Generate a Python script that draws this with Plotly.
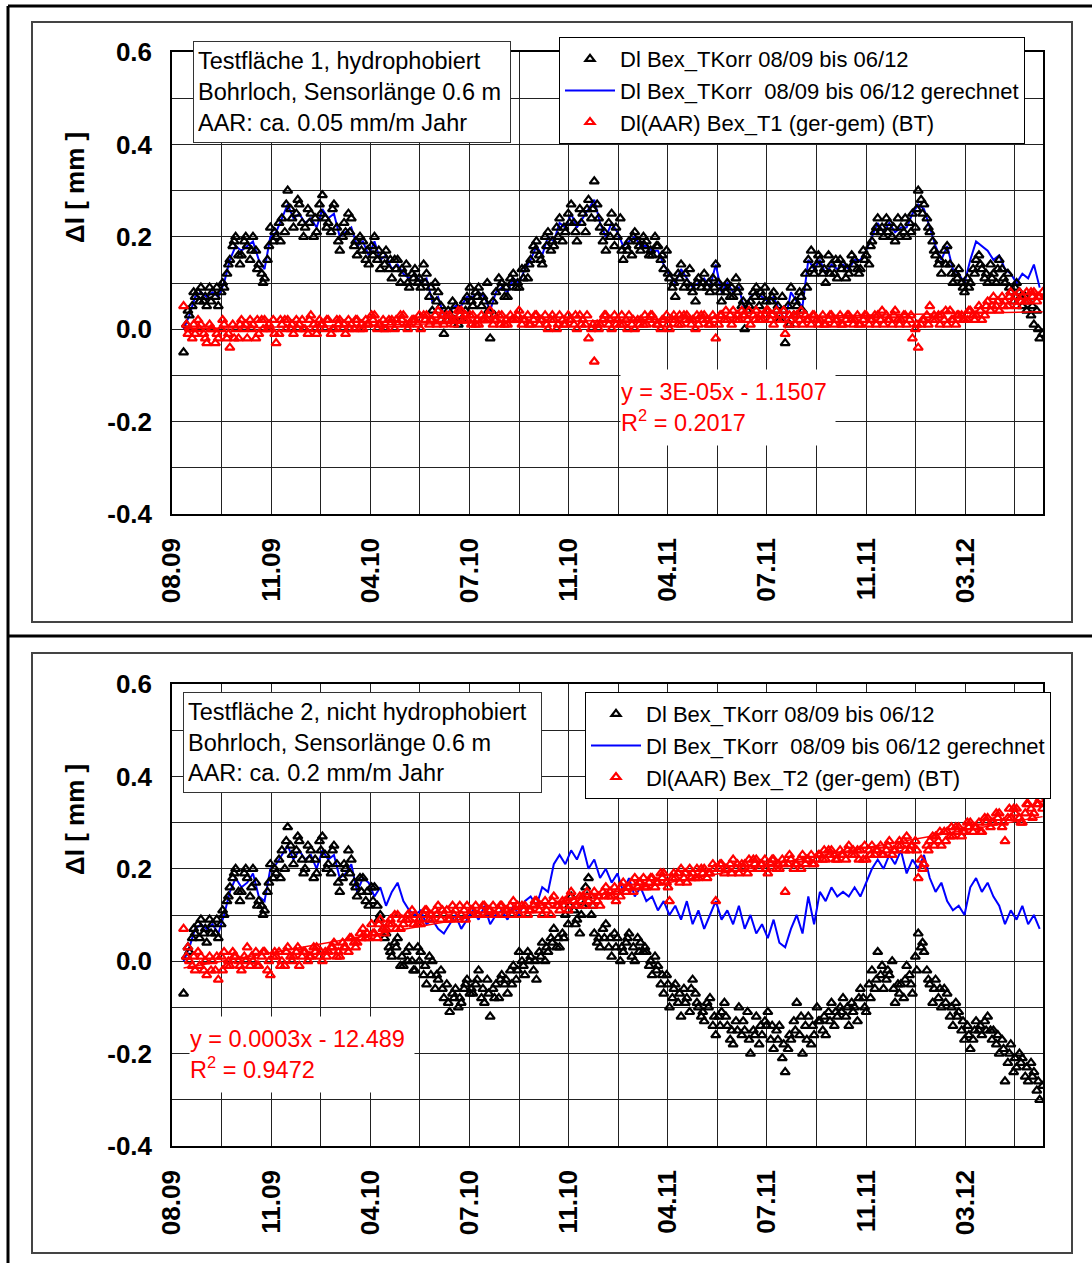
import numpy as np
import plotly.graph_objects as go

# Werte (mm). Die Punktwolken sind dreifach
# abgelesen: Reihe A an Tag 14, 21, 28, ...; Reihe B 3.5 Tage später,
# Reihe C 5.25 Tage später. Tag 0 = Achsenbeginn "08.09".
DAY0 = 14
STEP = 7
OFFSET_B = 3.5
OFFSET_C = 5.25

T1_GEMESSEN_A = [
    -0.05, 0.03, 0.07, 0.09, 0.05, 0.08, 0.05, 0.09, 0.15, 0.20,
    0.16, 0.18, 0.20, 0.14, 0.11, 0.22, 0.20, 0.24, 0.30, 0.22,
    0.27, 0.22, 0.25, 0.21, 0.29, 0.23, 0.27, 0.17, 0.21, 0.24,
    0.16, 0.19, 0.14, 0.20, 0.13, 0.17, 0.11, 0.15, 0.12, 0.09,
    0.13, 0.09, 0.12, 0.04, 0.08, -0.01, 0.03, 0.05, 0.02, 0.07,
    0.05, 0.09, 0.06, -0.02, 0.08, 0.10, 0.07, 0.12, 0.09, 0.13,
    0.15, 0.19, 0.14, 0.21, 0.18, 0.24, 0.21, 0.27, 0.19, 0.25,
    0.28, 0.32, 0.22, 0.17, 0.25, 0.20, 0.15, 0.19, 0.21, 0.17,
    0.19, 0.16, 0.18, 0.13, 0.11, 0.07, 0.14, 0.10, 0.08, 0.11,
    0.12, 0.08, 0.14, 0.06, 0.10, 0.07, 0.09, 0.00, 0.06, 0.09,
    0.07, 0.04, 0.08, 0.02, -0.03, 0.09, 0.05, 0.04, 0.15, 0.12,
    0.15, 0.10, 0.14, 0.11, 0.14, 0.12, 0.15, 0.13, 0.16, 0.19,
    0.24, 0.20, 0.23, 0.19, 0.22, 0.20, 0.25, 0.30, 0.27, 0.21,
    0.16, 0.12, 0.18, 0.10, 0.13, 0.08, 0.10, 0.15, 0.13, 0.10,
    0.12, 0.15, 0.10, 0.08, 0.10, 0.05, 0.06, 0.01, -0.02,
]
T1_GEMESSEN_B = [
    0.01, 0.05, 0.08, 0.06, 0.09, 0.07, 0.08, 0.12, 0.18, 0.16,
    0.19, 0.15, 0.17, 0.12, 0.15, 0.19, 0.23, 0.21, 0.26, 0.25,
    0.23, 0.26, 0.20, 0.27, 0.24, 0.21, 0.22, 0.20, 0.25, 0.18,
    0.20, 0.15, 0.18, 0.15, 0.16, 0.13, 0.15, 0.10, 0.14, 0.12,
    0.10, 0.14, 0.07, 0.10, 0.05, 0.02, 0.06, 0.01, 0.06, 0.09,
    0.08, 0.05, 0.10, 0.06, 0.11, 0.07, 0.11, 0.09, 0.13, 0.11,
    0.18, 0.16, 0.20, 0.17, 0.22, 0.19, 0.25, 0.23, 0.26, 0.21,
    0.24, 0.27, 0.19, 0.23, 0.18, 0.24, 0.18, 0.16, 0.19, 0.20,
    0.16, 0.20, 0.15, 0.17, 0.09, 0.12, 0.09, 0.13, 0.06, 0.09,
    0.09, 0.11, 0.10, 0.09, 0.07, 0.11, 0.05, 0.04, 0.08, 0.05,
    0.09, 0.06, 0.04, 0.07, 0.05, 0.03, 0.08, 0.12, 0.17, 0.14,
    0.12, 0.16, 0.12, 0.15, 0.11, 0.16, 0.13, 0.17, 0.14, 0.21,
    0.21, 0.24, 0.20, 0.24, 0.21, 0.23, 0.22, 0.28, 0.24, 0.19,
    0.14, 0.17, 0.14, 0.12, 0.10, 0.11, 0.13, 0.16, 0.11, 0.14,
    0.10, 0.13, 0.12, 0.06, 0.08, 0.07, 0.03, 0.04, -0.01,
]
T1_GEMESSEN_C = [
    0.04, 0.08, 0.06, 0.07, 0.06, 0.09, 0.10, 0.14, 0.19, 0.14,
    0.20, 0.17, 0.13, 0.10, 0.18, 0.21, 0.19, 0.27, 0.24, 0.28,
    0.20, 0.23, 0.24, 0.25, 0.22, 0.26, 0.19, 0.23, 0.21, 0.19,
    0.17, 0.17, 0.16, 0.17, 0.14, 0.15, 0.13, 0.13, 0.10, 0.11,
    0.11, 0.10, 0.09, 0.06, 0.03, 0.04, 0.02, 0.04, 0.04, 0.06,
    0.07, 0.07, 0.04, 0.03, 0.09, 0.09, 0.10, 0.10, 0.11, 0.14,
    0.17, 0.15, 0.18, 0.19, 0.20, 0.22, 0.23, 0.21, 0.23, 0.26,
    0.26, 0.24, 0.21, 0.20, 0.22, 0.17, 0.17, 0.20, 0.18, 0.18,
    0.17, 0.18, 0.16, 0.12, 0.10, 0.11, 0.12, 0.09, 0.10, 0.10,
    0.10, 0.09, 0.08, 0.08, 0.09, 0.08, 0.06, 0.05, 0.07, 0.08,
    0.06, 0.07, 0.05, 0.04, 0.01, 0.06, 0.07, 0.09, 0.13, 0.16,
    0.13, 0.12, 0.15, 0.13, 0.13, 0.14, 0.12, 0.15, 0.18, 0.22,
    0.22, 0.21, 0.22, 0.20, 0.24, 0.21, 0.26, 0.25, 0.22, 0.17,
    0.15, 0.14, 0.12, 0.11, 0.09, 0.09, 0.12, 0.14, 0.12, 0.11,
    0.13, 0.11, 0.09, 0.09, 0.07, 0.04, 0.05, 0.00,
]
T1_GERECHNET = [
    0.00, 0.03, 0.07, 0.08, 0.07, 0.08, 0.07, 0.10, 0.15, 0.18,
    0.17, 0.18, 0.19, 0.15, 0.13, 0.20, 0.21, 0.24, 0.27, 0.24,
    0.25, 0.23, 0.24, 0.22, 0.26, 0.24, 0.25, 0.20, 0.21, 0.22,
    0.18, 0.19, 0.16, 0.19, 0.15, 0.16, 0.13, 0.14, 0.12, 0.11,
    0.12, 0.10, 0.11, 0.06, 0.07, 0.03, 0.04, 0.05, 0.05, 0.07,
    0.07, 0.08, 0.07, 0.04, 0.08, 0.09, 0.08, 0.11, 0.10, 0.13,
    0.15, 0.18, 0.16, 0.20, 0.19, 0.23, 0.22, 0.25, 0.22, 0.24,
    0.26, 0.28, 0.23, 0.20, 0.23, 0.21, 0.18, 0.19, 0.20, 0.18,
    0.18, 0.17, 0.17, 0.14, 0.12, 0.10, 0.13, 0.11, 0.09, 0.10,
    0.11, 0.09, 0.14, 0.08, 0.10, 0.08, 0.09, 0.04, 0.07, 0.08,
    0.07, 0.06, 0.07, 0.04, 0.02, 0.08, 0.06, 0.05, 0.15, 0.13,
    0.15, 0.12, 0.14, 0.13, 0.14, 0.13, 0.15, 0.15, 0.17, 0.20,
    0.23, 0.21, 0.23, 0.21, 0.22, 0.22, 0.25, 0.27, 0.26, 0.22,
    0.18, 0.15, 0.18, 0.13, 0.12, 0.10, 0.15, 0.19, 0.18, 0.17,
    0.15, 0.16, 0.13, 0.12, 0.10, 0.12, 0.11, 0.14, 0.09,
]
T1_AAR_A = [
    0.05, 0.00, -0.01, 0.01, -0.03, 0.00, -0.02, 0.01, -0.04, 0.00,
    0.02, -0.02, 0.01, -0.01, 0.02, 0.00, -0.03, 0.01, 0.02, -0.01,
    0.01, 0.00, 0.03, -0.01, 0.01, 0.02, 0.00, 0.02, -0.01, 0.01,
    0.02, 0.00, 0.01, 0.03, 0.01, 0.00, 0.02, 0.01, 0.03, 0.01,
    0.02, 0.00, 0.03, 0.02, 0.04, 0.01, 0.03, 0.02, 0.04, 0.02,
    0.03, 0.01, 0.02, 0.04, 0.02, 0.03, 0.01, 0.02, 0.04, 0.02,
    0.01, 0.03, 0.02, 0.00, 0.02, 0.03, 0.01, 0.02, 0.00, 0.02,
    -0.02, -0.07, 0.01, 0.03, 0.00, 0.02, 0.01, 0.03, 0.00, 0.02,
    0.01, 0.03, 0.01, 0.02, 0.00, 0.02, 0.01, 0.03, 0.02, 0.01,
    0.03, 0.01, -0.02, 0.03, 0.02, 0.04, 0.02, 0.03, 0.01, 0.04,
    0.02, 0.04, 0.01, 0.03, -0.01, 0.02, 0.03, 0.01, 0.02, 0.03,
    0.02, 0.01, 0.03, 0.02, 0.01, 0.03, 0.02, 0.01, 0.03, 0.02,
    0.03, 0.01, 0.02, 0.04, 0.02, 0.01, -0.02, -0.04, 0.02, 0.05,
    0.02, 0.03, 0.01, 0.02, 0.03, 0.02, 0.04, 0.03, 0.02, 0.06,
    0.07, 0.04, 0.06, 0.08, 0.05, 0.07, 0.06, 0.08, 0.07,
]
T1_AAR_B = [
    0.01, -0.02, 0.02, -0.01, 0.01, -0.03, 0.00, -0.02, 0.01, -0.02,
    0.00, 0.02, -0.02, 0.02, 0.00, 0.02, -0.01, 0.02, 0.00, 0.02,
    0.02, -0.01, 0.01, 0.02, 0.00, -0.01, 0.02, 0.00, 0.02, 0.00,
    0.00, 0.02, 0.03, 0.00, 0.02, 0.02, 0.00, 0.03, 0.01, 0.02,
    0.01, 0.03, 0.01, 0.03, 0.02, 0.03, 0.02, 0.04, 0.02, 0.03,
    0.01, 0.03, 0.02, 0.01, 0.03, 0.01, 0.03, 0.02, 0.01, 0.03,
    0.02, 0.01, 0.03, 0.02, 0.00, 0.02, 0.03, 0.01, 0.03, 0.01,
    0.00, 0.01, 0.02, 0.01, 0.03, 0.01, 0.02, 0.01, 0.02, 0.01,
    0.02, 0.02, 0.00, 0.03, 0.02, 0.01, 0.03, 0.02, 0.00, 0.03,
    0.02, 0.03, 0.01, 0.02, 0.03, 0.02, 0.04, 0.02, 0.03, 0.02,
    0.03, 0.02, 0.04, 0.02, 0.01, 0.03, 0.02, 0.03, 0.01, 0.02,
    0.03, 0.02, 0.01, 0.03, 0.02, 0.02, 0.03, 0.02, 0.01, 0.03,
    0.02, 0.03, 0.01, 0.02, 0.03, 0.02, 0.00, 0.01, 0.03, 0.02,
    0.03, 0.02, 0.04, 0.01, 0.03, 0.02, 0.03, 0.05, 0.03, 0.04,
    0.05, 0.07, 0.05, 0.06, 0.08, 0.06, 0.08, 0.06, 0.08,
]
T1_AAR_C = [
    -0.01, 0.01, 0.00, -0.02, 0.00, -0.01, 0.02, -0.01, -0.02, 0.01,
    0.01, 0.00, 0.02, 0.00, 0.01, -0.01, 0.02, 0.00, 0.01, 0.00,
    0.00, 0.02, 0.00, 0.01, 0.02, 0.00, 0.01, 0.01, 0.00, 0.02,
    0.01, 0.01, 0.02, 0.01, 0.00, 0.01, 0.02, 0.02, 0.00, 0.02,
    0.03, 0.02, 0.02, 0.01, 0.03, 0.02, 0.01, 0.03, 0.03, 0.01,
    0.02, 0.02, 0.03, 0.02, 0.01, 0.02, 0.02, 0.03, 0.02, 0.01,
    0.03, 0.02, 0.01, 0.03, 0.01, 0.01, 0.02, 0.03, 0.01, 0.03,
    0.01, 0.00, 0.03, 0.02, 0.01, 0.03, 0.00, 0.02, 0.01, 0.03,
    0.03, 0.01, 0.02, 0.01, 0.03, 0.03, 0.02, 0.01, 0.03, 0.02,
    0.01, 0.02, 0.03, 0.04, 0.01, 0.03, 0.03, 0.04, 0.02, 0.03,
    0.04, 0.03, 0.02, 0.04, 0.03, 0.01, 0.04, 0.02, 0.03, 0.01,
    0.01, 0.03, 0.02, 0.01, 0.03, 0.01, 0.01, 0.03, 0.02, 0.01,
    0.04, 0.02, 0.03, 0.01, 0.03, 0.03, 0.01, 0.02, 0.01, 0.03,
    0.01, 0.04, 0.02, 0.03, 0.02, 0.04, 0.02, 0.04, 0.05, 0.05,
    0.06, 0.05, 0.07, 0.07, 0.06, 0.08, 0.07, 0.07,
]

T2_GEMESSEN_A = [
    -0.07, 0.02, 0.06, 0.09, 0.04, 0.08, 0.05, 0.10, 0.16, 0.20,
    0.15, 0.18, 0.20, 0.13, 0.11, 0.21, 0.19, 0.24, 0.29, 0.21,
    0.26, 0.20, 0.24, 0.19, 0.27, 0.21, 0.25, 0.15, 0.20, 0.22,
    0.14, 0.18, 0.12, 0.16, 0.10, 0.06, 0.01, 0.05, -0.01, 0.03,
    -0.02, 0.02, -0.05, 0.00, -0.04, -0.08, -0.11, -0.06, -0.09, -0.04,
    -0.07, -0.02, -0.09, -0.12, -0.05, -0.03, -0.07, -0.01, 0.02, -0.03,
    0.01, -0.04, 0.04, 0.02, 0.07, 0.03, 0.10, 0.14, 0.09, 0.12,
    0.18, 0.06, 0.03, 0.08, 0.01, 0.05, 0.02, 0.06, 0.00, 0.04,
    0.02, -0.03, -0.01, -0.07, -0.10, -0.05, -0.12, -0.08, -0.04, -0.10,
    -0.13, -0.08, -0.16, -0.11, -0.14, -0.18, -0.10, -0.15, -0.20, -0.12,
    -0.16, -0.11, -0.19, -0.14, -0.24, -0.17, -0.09, -0.20, -0.12, -0.16,
    -0.13, -0.16, -0.09, -0.12, -0.08, -0.14, -0.10, -0.06, -0.11, -0.02,
    0.02, -0.06, -0.03, -0.09, -0.05, -0.01, -0.07, 0.06, 0.02, -0.05,
    -0.04, -0.10, -0.07, -0.14, -0.11, -0.17, -0.19, -0.13, -0.16, -0.12,
    -0.15, -0.20, -0.26, -0.18, -0.23, -0.21, -0.26, -0.24, -0.30,
]
T2_GEMESSEN_B = [
    0.01, 0.05, 0.08, 0.06, 0.09, 0.06, 0.08, 0.13, 0.18, 0.15,
    0.19, 0.14, 0.17, 0.12, 0.15, 0.18, 0.22, 0.20, 0.25, 0.24,
    0.22, 0.25, 0.18, 0.26, 0.23, 0.19, 0.21, 0.18, 0.24, 0.17,
    0.18, 0.13, 0.16, 0.12, 0.07, 0.03, 0.04, -0.01, 0.02, 0.00,
    0.03, -0.03, 0.01, -0.06, -0.02, -0.05, -0.07, -0.10, -0.06, -0.07,
    -0.05, -0.08, -0.04, -0.06, -0.08, -0.05, -0.02, -0.04, 0.00, 0.02,
    -0.02, 0.02, 0.00, 0.05, 0.03, 0.06, 0.08, 0.11, 0.06, 0.16,
    0.10, 0.04, 0.07, 0.03, 0.06, 0.00, 0.04, 0.01, 0.05, 0.02,
    -0.01, 0.01, -0.05, -0.03, -0.08, -0.09, -0.06, -0.11, -0.07, -0.12,
    -0.09, -0.14, -0.12, -0.09, -0.17, -0.13, -0.16, -0.11, -0.15, -0.18,
    -0.13, -0.17, -0.15, -0.21, -0.19, -0.13, -0.16, -0.14, -0.18, -0.10,
    -0.15, -0.11, -0.14, -0.10, -0.12, -0.09, -0.13, -0.08, -0.05, -0.06,
    -0.03, -0.04, 0.00, -0.05, -0.08, -0.03, 0.01, 0.03, -0.02, -0.09,
    -0.08, -0.06, -0.12, -0.09, -0.15, -0.14, -0.17, -0.15, -0.13, -0.15,
    -0.18, -0.17, -0.22, -0.24, -0.20, -0.25, -0.22, -0.28, -0.27,
]
T2_GEMESSEN_C = [
    0.03, 0.07, 0.05, 0.07, 0.06, 0.09, 0.11, 0.14, 0.19, 0.13,
    0.20, 0.16, 0.12, 0.10, 0.17, 0.20, 0.18, 0.26, 0.23, 0.27,
    0.19, 0.22, 0.22, 0.24, 0.20, 0.24, 0.17, 0.21, 0.19, 0.16,
    0.15, 0.15, 0.13, 0.09, 0.05, 0.02, 0.03, 0.01, 0.00, -0.02,
    0.00, -0.01, -0.03, -0.03, -0.06, -0.09, -0.08, -0.08, -0.05, -0.06,
    -0.04, -0.06, -0.07, -0.08, -0.04, -0.04, -0.05, -0.02, -0.01, 0.00,
    0.00, 0.01, 0.03, 0.04, 0.05, 0.05, 0.12, 0.08, 0.10, 0.14,
    0.12, 0.05, 0.05, 0.05, 0.03, 0.03, 0.05, 0.03, 0.02, 0.03,
    0.00, -0.02, -0.03, -0.05, -0.06, -0.07, -0.09, -0.06, -0.09, -0.11,
    -0.10, -0.12, -0.14, -0.12, -0.15, -0.15, -0.13, -0.17, -0.16, -0.14,
    -0.14, -0.14, -0.17, -0.18, -0.16, -0.15, -0.12, -0.17, -0.14, -0.13,
    -0.12, -0.13, -0.11, -0.11, -0.10, -0.11, -0.08, -0.10, -0.08, -0.04,
    -0.01, -0.02, -0.06, -0.07, -0.04, -0.05, -0.02, 0.04, -0.04, -0.06,
    -0.06, -0.09, -0.10, -0.12, -0.13, -0.16, -0.15, -0.14, -0.15, -0.17,
    -0.16, -0.19, -0.20, -0.21, -0.22, -0.23, -0.25, -0.26,
]
T2_GERECHNET = [
    0.00, 0.03, 0.07, 0.08, 0.07, 0.08, 0.06, 0.10, 0.15, 0.18,
    0.16, 0.17, 0.19, 0.14, 0.13, 0.20, 0.21, 0.23, 0.25, 0.22,
    0.24, 0.22, 0.23, 0.20, 0.24, 0.22, 0.23, 0.18, 0.19, 0.21,
    0.15, 0.18, 0.17, 0.14, 0.16, 0.12, 0.15, 0.17, 0.13, 0.11,
    0.10, 0.11, 0.08, 0.09, 0.07, 0.06, 0.08, 0.10, 0.07, 0.09,
    0.11, 0.09, 0.12, 0.08, 0.10, 0.11, 0.09, 0.12, 0.10, 0.13,
    0.14, 0.12, 0.16, 0.15, 0.21, 0.23, 0.21, 0.24, 0.22, 0.25,
    0.20, 0.22, 0.18, 0.20, 0.17, 0.19, 0.15, 0.18, 0.14, 0.16,
    0.13, 0.14, 0.11, 0.13, 0.10, 0.12, 0.09, 0.13, 0.08, 0.11,
    0.07, 0.10, 0.13, 0.09, 0.11, 0.08, 0.12, 0.07, 0.10, 0.06,
    0.08, 0.05, 0.09, 0.04, 0.03, 0.07, 0.10, 0.06, 0.14, 0.08,
    0.15, 0.13, 0.16, 0.14, 0.15, 0.14, 0.16, 0.14, 0.17, 0.20,
    0.22, 0.20, 0.23, 0.21, 0.24, 0.19, 0.22, 0.20, 0.23, 0.18,
    0.15, 0.17, 0.13, 0.11, 0.12, 0.10, 0.16, 0.18, 0.15, 0.17,
    0.14, 0.12, 0.08, 0.11, 0.09, 0.12, 0.08, 0.10, 0.07,
]
T2_AAR_A = [
    0.07, 0.00, -0.02, 0.01, -0.03, 0.00, -0.04, 0.02, -0.01, 0.01,
    -0.02, 0.03, 0.00, -0.01, 0.02, -0.03, 0.01, 0.00, 0.03, 0.01,
    -0.01, 0.02, 0.01, 0.03, 0.00, 0.02, 0.04, 0.01, 0.03, 0.05,
    0.04, 0.07, 0.05, 0.06, 0.09, 0.07, 0.08, 0.10, 0.08, 0.09,
    0.10, 0.08, 0.11, 0.09, 0.12, 0.10, 0.09, 0.11, 0.10, 0.12,
    0.11, 0.10, 0.12, 0.11, 0.10, 0.12, 0.11, 0.13, 0.10, 0.12,
    0.11, 0.13, 0.10, 0.12, 0.14, 0.11, 0.13, 0.15, 0.12, 0.14,
    0.13, 0.15, 0.12, 0.16, 0.14, 0.15, 0.17, 0.16, 0.18, 0.17,
    0.16, 0.18, 0.17, 0.19, 0.13, 0.18, 0.20, 0.17, 0.19, 0.18,
    0.20, 0.19, 0.13, 0.21, 0.20, 0.22, 0.19, 0.21, 0.20, 0.22,
    0.21, 0.19, 0.22, 0.20, 0.15, 0.22, 0.21, 0.23, 0.22, 0.21,
    0.23, 0.22, 0.24, 0.22, 0.23, 0.25, 0.23, 0.24, 0.22, 0.25,
    0.24, 0.23, 0.26, 0.24, 0.25, 0.27, 0.25, 0.18, 0.21, 0.26,
    0.27, 0.25, 0.28, 0.27, 0.29, 0.28, 0.30, 0.29, 0.28, 0.31,
    0.30, 0.32, 0.26, 0.31, 0.33, 0.30, 0.34, 0.32, 0.35,
]
T2_AAR_B = [
    0.01, -0.01, 0.02, -0.02, 0.01, -0.02, 0.01, -0.01, 0.02, 0.00,
    0.01, -0.01, 0.02, 0.01, -0.02, 0.01, 0.02, -0.01, 0.01, 0.02,
    0.01, 0.00, 0.03, 0.01, 0.02, 0.03, 0.01, 0.04, 0.02, 0.04,
    0.06, 0.05, 0.08, 0.05, 0.07, 0.08, 0.10, 0.07, 0.09, 0.11,
    0.08, 0.10, 0.09, 0.11, 0.09, 0.11, 0.12, 0.09, 0.11, 0.10,
    0.12, 0.11, 0.10, 0.12, 0.11, 0.10, 0.12, 0.11, 0.12, 0.10,
    0.12, 0.11, 0.13, 0.10, 0.12, 0.13, 0.11, 0.13, 0.14, 0.12,
    0.14, 0.13, 0.15, 0.14, 0.16, 0.14, 0.15, 0.17, 0.16, 0.18,
    0.17, 0.16, 0.19, 0.17, 0.18, 0.19, 0.18, 0.20, 0.18, 0.20,
    0.18, 0.21, 0.20, 0.19, 0.21, 0.20, 0.21, 0.19, 0.22, 0.20,
    0.22, 0.21, 0.20, 0.22, 0.21, 0.20, 0.22, 0.21, 0.23, 0.22,
    0.22, 0.24, 0.23, 0.24, 0.22, 0.23, 0.24, 0.22, 0.24, 0.23,
    0.25, 0.24, 0.23, 0.25, 0.26, 0.24, 0.26, 0.22, 0.25, 0.27,
    0.26, 0.28, 0.27, 0.29, 0.27, 0.30, 0.28, 0.30, 0.31, 0.29,
    0.32, 0.29, 0.31, 0.33, 0.31, 0.32, 0.33, 0.34, 0.33,
]
T2_AAR_C = [
    0.03, 0.01, -0.01, 0.00, -0.02, 0.01, -0.02, 0.00, 0.01, -0.01,
    0.00, 0.01, -0.01, 0.02, 0.00, 0.02, -0.01, 0.02, 0.00, 0.03,
    0.02, 0.01, 0.02, 0.02, 0.01, 0.03, 0.02, 0.03, 0.05, 0.03,
    0.05, 0.06, 0.06, 0.08, 0.06, 0.09, 0.07, 0.09, 0.10, 0.08,
    0.09, 0.11, 0.10, 0.10, 0.11, 0.09, 0.10, 0.12, 0.09, 0.11,
    0.10, 0.12, 0.11, 0.10, 0.12, 0.11, 0.10, 0.12, 0.11, 0.11,
    0.13, 0.12, 0.11, 0.13, 0.12, 0.12, 0.14, 0.12, 0.13, 0.15,
    0.12, 0.14, 0.14, 0.15, 0.13, 0.16, 0.16, 0.15, 0.17, 0.16,
    0.18, 0.17, 0.18, 0.16, 0.19, 0.17, 0.19, 0.18, 0.20, 0.19,
    0.19, 0.20, 0.21, 0.20, 0.19, 0.21, 0.20, 0.22, 0.21, 0.21,
    0.20, 0.22, 0.21, 0.21, 0.23, 0.21, 0.20, 0.22, 0.21, 0.23,
    0.24, 0.23, 0.22, 0.23, 0.24, 0.24, 0.22, 0.25, 0.23, 0.24,
    0.23, 0.25, 0.24, 0.26, 0.24, 0.25, 0.24, 0.20, 0.24, 0.25,
    0.28, 0.26, 0.29, 0.28, 0.28, 0.29, 0.29, 0.28, 0.30, 0.30,
    0.31, 0.30, 0.33, 0.32, 0.30, 0.34, 0.31, 0.34,
]

# Achse: Tage ab 08.09, Gitter alle 60 Tage, Beschriftung jede zweite Linie
X_TICKS = [0, 120, 240, 360, 480, 600, 720, 840, 960]
X_LABELS = ["08.09", "11.09", "04.10", "07.10", "11.10", "04.11", "07.11", "11.11", "03.12"]
Y_TICKS = [-0.4, -0.2, 0.0, 0.2, 0.4, 0.6]
Y_LABELS = ["-0.4", "-0.2", "0.0", "0.2", "0.4", "0.6"]

NAME_GEM = "Dl Bex_TKorr 08/09 bis 06/12"
NAME_GER = "Dl Bex_TKorr  08/09 bis 06/12 gerechnet"

W, H = 1092, 1263
FONT = "Arial, Liberation Sans, sans-serif"


def fx(px):
    return px / W


def fy(py):
    return 1 - py / H


def days(n, offset=0.0):
    return [DAY0 + offset + STEP * i for i in range(n)]


def cloud(a, b, c):
    """Drei Ablesungen einer Punktwolke zu einer Reihe zusammenfügen."""
    xs = days(len(a)) + days(len(b), OFFSET_B) + days(len(c), OFFSET_C)
    return xs, a + b + c


def trend(xs, vals):
    k, d = np.polyfit(xs, vals, 1)
    ends = np.array([min(xs), max(xs)])
    return ends, k * ends + d


fig = go.Figure()

panels = [
    dict(xa="x", ya="y", leg="legend",
         gem=(T1_GEMESSEN_A, T1_GEMESSEN_B, T1_GEMESSEN_C), ger=T1_GERECHNET,
         aar=(T1_AAR_A, T1_AAR_B, T1_AAR_C),
         aar_name="Dl(AAR) Bex_T1 (ger-gem) (BT)"),
    dict(xa="x2", ya="y2", leg="legend2",
         gem=(T2_GEMESSEN_A, T2_GEMESSEN_B, T2_GEMESSEN_C), ger=T2_GERECHNET,
         aar=(T2_AAR_A, T2_AAR_B, T2_AAR_C),
         aar_name="Dl(AAR) Bex_T2 (ger-gem) (BT)"),
]

tri = dict(symbol="triangle-up-open", size=8, line=dict(width=2.2))

for p in panels:
    gx, gy = cloud(*p["gem"])
    rx, ry = cloud(*p["aar"])
    fig.add_trace(go.Scatter(
        x=days(len(p["ger"])), y=p["ger"], mode="lines", name=NAME_GER,
        line=dict(color="#0000ff", width=2),
        xaxis=p["xa"], yaxis=p["ya"], legend=p["leg"], legendrank=2,
    ))
    fig.add_trace(go.Scatter(
        x=gx, y=gy, mode="markers", name=NAME_GEM,
        marker=dict(tri, color="black"),
        xaxis=p["xa"], yaxis=p["ya"], legend=p["leg"], legendrank=1,
    ))
    fig.add_trace(go.Scatter(
        x=rx, y=ry, mode="markers", name=p["aar_name"],
        marker=dict(tri, color="#ff0000"),
        xaxis=p["xa"], yaxis=p["ya"], legend=p["leg"], legendrank=3,
    ))
    tx, ty = trend(rx, ry)
    fig.add_trace(go.Scatter(
        x=tx, y=ty, mode="lines", showlegend=False,
        line=dict(color="#ff0000", width=1.5),
        xaxis=p["xa"], yaxis=p["ya"],
    ))

axis_common = dict(
    showline=True, mirror=True, linecolor="black", linewidth=1.5,
    showgrid=True, gridcolor="#222", gridwidth=1,
    zeroline=False, ticks="", tickmode="array", automargin=False,
    tickfont=dict(family=FONT, size=26, color="black", weight="bold"),
)
xa = dict(axis_common, range=[0, 1054], tickvals=X_TICKS, ticktext=X_LABELS,
          tickangle=-90, ticklabelstandoff=12,
          minor=dict(tick0=0, dtick=60, showgrid=True, gridcolor="#222", gridwidth=1),
          domain=[fx(172), fx(1043)])
ya = dict(axis_common, range=[-0.4, 0.6], tickvals=Y_TICKS, ticktext=Y_LABELS,
          ticklabelstandoff=13,
          minor=dict(tick0=0, dtick=0.1, showgrid=True, gridcolor="#222", gridwidth=1))

legend_common = dict(xanchor="left", yanchor="top", bgcolor="white",
                     bordercolor="black", borderwidth=1, font=dict(size=22),
                     itemwidth=50, tracegroupgap=0)

fig.update_layout(
    width=W, height=H,
    margin=dict(l=0, r=0, t=0, b=0, autoexpand=False),
    paper_bgcolor="white", plot_bgcolor="white",
    font=dict(family=FONT, size=22, color="black"),
    xaxis=dict(xa, anchor="y"),
    yaxis=dict(ya, anchor="x", domain=[fy(514), fy(52)]),
    xaxis2=dict(xa, anchor="y2"),
    yaxis2=dict(ya, anchor="x2", domain=[fy(1146), fy(684)]),
    legend=dict(legend_common, x=fx(559), y=fy(37)),
    legend2=dict(legend_common, x=fx(585), y=fy(692)),
)

# Rahmen: äußere Tabellenlinien und Diagrammflächen
shapes = [
    dict(type="line", x0=fx(8), x1=1, y0=fy(6), y1=fy(6), line=dict(color="black", width=3)),
    dict(type="line", x0=fx(8), x1=fx(8), y0=fy(6), y1=0, line=dict(color="black", width=3)),
    dict(type="line", x0=fx(8), x1=1, y0=fy(636), y1=fy(636), line=dict(color="black", width=3)),
    dict(type="rect", x0=fx(32), x1=fx(1072), y0=fy(22), y1=fy(622), line=dict(color="#444", width=2)),
    dict(type="rect", x0=fx(32), x1=fx(1072), y0=fy(653), y1=fy(1253), line=dict(color="#444", width=2)),
]
for s in shapes:
    s.update(xref="paper", yref="paper", layer="below")
fig.update_layout(shapes=shapes)

ann = []
for ty_ in (188, 820):
    ann.append(dict(x=fx(75), y=fy(ty_), text="<b>Δl [ mm ]</b>", textangle=-90,
                    font=dict(size=26), showarrow=False, xanchor="center", yanchor="middle"))

boxes = [
    (193, 41, 318, 102, "Testfläche 1, hydrophobiert<br>Bohrloch, Sensorlänge 0.6 m<br>AAR: ca. 0.05 mm/m Jahr"),
    (183, 692, 359, 101, "Testfläche 2, nicht hydrophobiert<br>Bohrloch, Sensorlänge 0.6 m<br>AAR: ca. 0.2 mm/m Jahr"),
]
for bx, by, bw, bh, txt in boxes:
    ann.append(dict(x=fx(bx), y=fy(by), xanchor="left", yanchor="top", text=txt,
                    align="left", valign="middle", showarrow=False,
                    width=bw - 10, height=bh - 10, borderpad=4,
                    bgcolor="white", bordercolor="#333", borderwidth=1,
                    font=dict(size=23.5)))

eqs = [
    (620, 369, 214, 75, "y = 3E-05x - 1.1507<br>R<sup>2</sup> = 0.2017"),
    (189, 1016, 224, 75, "y = 0.0003x - 12.489<br>R<sup>2</sup> = 0.9472"),
]
for bx, by, bw, bh, txt in eqs:
    ann.append(dict(x=fx(bx), y=fy(by), xanchor="left", yanchor="top", text=txt,
                    align="left", valign="middle", showarrow=False,
                    width=bw, height=bh, borderpad=0, bgcolor="white",
                    font=dict(size=23.5, color="#ff0000")))
for a in ann:
    a.update(xref="paper", yref="paper")
fig.update_layout(annotations=ann)

fig.write_html("out.html", config={"displayModeBar": False},
               post_script="document.body.style.margin='0';")
